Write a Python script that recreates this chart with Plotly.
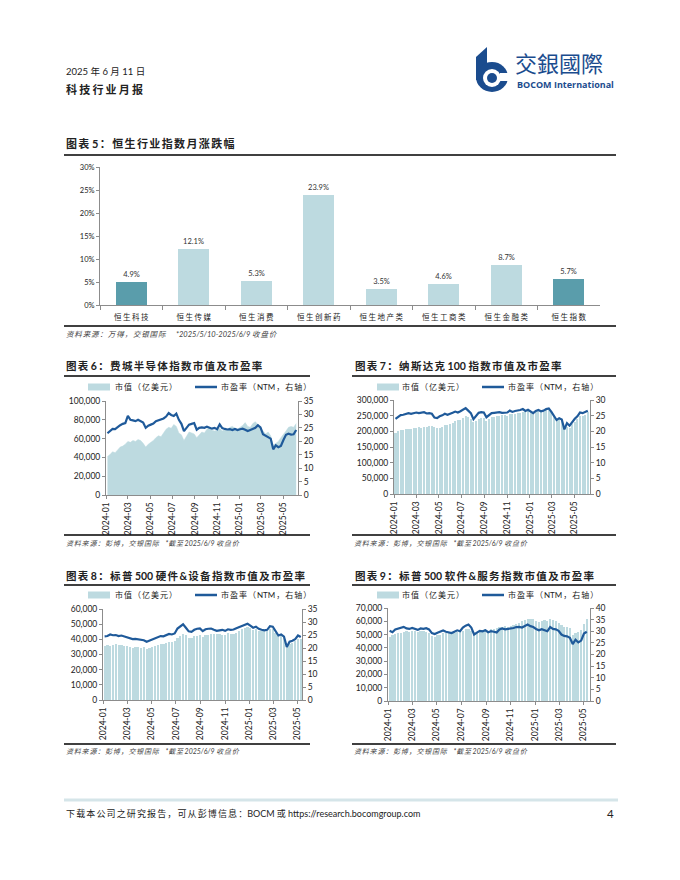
import plotly.graph_objects as go
import pandas as pd

W, H = 680, 880
FONT = "Lato, 'Noto Sans CJK SC', sans-serif"
CJK = "'Noto Sans CJK SC', sans-serif"
LIGHT = "#BDDAE0"
DARK = "#5A9DAB"
BLUE = "#1F5A9A"
AX = "#8C8C8C"

# ---------------- Chart 5 data ----------------
hs_categories = ["恒生科技", "恒生传媒", "恒生消费", "恒生创新药", "恒生地产类", "恒生工商类", "恒生金融类", "恒生指数"]
hs_returns = [0.049, 0.121, 0.053, 0.239, 0.035, 0.046, 0.087, 0.057]
hs_highlight = [True, False, False, False, False, False, False, True]

# ---------------- weekly dates ----------------
dates_long = pd.date_range("2024-01-05", "2025-06-06", freq="W-FRI")
dates_short = pd.date_range("2024-01-05", "2025-05-09", freq="W-FRI")

# ---------------- Chart 6: SOX ----------------
sox_cap_k = [41, 43, 46, 45, 48, 51, 52, 54, 57, 56, 58, 57, 59, 58, 55, 51, 54,
             56, 58, 61, 63, 62, 66, 70, 72, 71, 75, 73, 66, 64, 58, 63, 67, 66, 65,
             61, 64, 67, 66, 70, 72, 69, 68, 69, 71, 68, 70, 69, 72, 73, 71, 70,
             72, 74, 77, 73, 72, 76, 78, 75, 72, 68, 65, 67, 63, 53, 55, 57, 61,
             64, 68, 72, 73, 72, 76]
sox_pe = [23.0, 23.8, 24.6, 24.5, 25.3, 26.0, 26.5, 26.8, 29.5, 28.0, 27.8, 27.5, 28.0,
          27.6, 27.0, 25.0, 25.8, 26.2, 26.6, 27.5, 27.8, 28.0, 28.5, 29.2, 30.5, 29.8,
          29.4, 30.3, 28.0, 26.5, 23.8, 25.0, 26.2, 26.5, 26.8, 24.3, 25.0, 25.2, 25.0,
          25.4, 25.0, 24.7, 25.0, 24.5, 26.3, 24.9, 24.6, 24.4, 24.5, 24.2, 24.6, 24.2,
          24.5, 24.7, 24.3, 23.8, 24.2, 24.6, 25.0, 26.0, 25.2, 22.6, 22.0, 21.3, 21.0,
          17.0, 18.5, 17.8, 18.3, 20.5, 22.4, 22.8, 22.5, 22.6, 24.2]

# ---------------- Chart 7: NDX ----------------
ndx_cap_k = [196, 200, 203, 205, 207, 209, 208, 210, 212, 213, 211, 214, 213,
             216, 218, 215, 210, 212, 215, 220, 221, 222, 226, 232, 235, 236,
             243, 250, 245, 238, 230, 234, 240, 243, 244, 233, 240, 245, 246,
             248, 250, 252, 251, 250, 256, 254, 256, 257, 260, 263, 262, 265,
             262, 258, 264, 266, 265, 263, 268, 270, 262, 248, 240, 238, 236,
             208, 215, 210, 222, 230, 240, 248, 250, 252, 262]
ndx_pe = [24.0, 24.6, 25.2, 25.3, 25.5, 25.8, 25.6, 25.9, 26.0, 25.8, 25.9, 26.1, 25.7,
          25.8, 25.6, 24.4, 24.2, 24.8, 25.1, 25.6, 25.3, 25.5, 25.9, 26.3, 26.0, 26.4,
          27.0, 27.4, 26.6, 25.8, 23.9, 24.8, 25.9, 26.1, 26.0, 24.5, 25.3, 25.8, 25.9,
          26.0, 26.1, 25.9, 26.0, 26.0, 26.6, 26.2, 26.5, 26.6, 26.8, 27.1, 26.5, 26.9,
          26.4, 25.8, 26.5, 26.8, 26.4, 26.6, 27.1, 27.3, 26.2, 24.8, 23.6, 24.2, 23.8,
          20.6, 22.6, 21.8, 23.0, 24.0, 24.8, 26.0, 25.8, 26.2, 26.6]

# ---------------- Chart 8: S&P 500 hardware ----------------
hw_cap_k = [35.5, 36.2, 35.8, 36.5, 37.0, 36.2, 36.0, 35.8, 35.3, 35.0, 34.6, 35.1, 34.8,
            34.5, 34.8, 33.8, 34.2, 35.2, 35.8, 36.5, 37.0, 37.2, 37.8, 38.5, 38.2, 38.8,
            41.0, 42.5, 43.8, 42.6, 41.0, 40.6, 42.0, 42.4, 42.8, 41.5, 42.6, 43.0, 43.2,
            43.8, 43.5, 43.2, 43.0, 42.8, 44.0, 43.5, 43.8, 44.5, 45.5, 46.5, 47.2, 48.0,
            47.2, 46.0, 46.5, 45.5, 45.8, 46.0, 45.2, 46.5, 46.8, 44.2, 42.5, 43.0, 41.8,
            35.5, 36.8, 37.5, 39.0, 40.5, 40.0]
hw_pe = [24.5, 24.6, 25.2, 24.9, 25.0, 24.6, 24.8, 24.4, 24.0, 23.6, 23.4, 23.5, 23.3,
         23.2, 23.0, 22.4, 22.8, 23.2, 23.6, 24.2, 24.6, 24.5, 24.8, 25.4, 25.2, 25.6,
         27.5, 28.2, 29.1, 27.8, 26.4, 26.2, 27.0, 27.4, 27.5, 26.5, 27.2, 27.4, 27.5,
         27.0, 26.6, 26.8, 27.0, 26.6, 27.2, 27.0, 27.1, 27.6, 28.0, 28.6, 29.0, 29.3,
         28.6, 27.8, 28.2, 27.4, 27.0, 26.8, 27.0, 28.4, 28.2, 26.6, 24.8, 25.2, 24.4,
         20.4, 22.4, 22.8, 23.4, 24.8, 24.2]

# ---------------- Chart 9: S&P 500 software ----------------
sw_cap_k = [48.5, 49.5, 50.5, 51.0, 51.5, 52.0, 52.5, 52.0, 52.5, 52.8, 52.0, 53.0, 52.5,
            52.0, 51.5, 49.0, 48.5, 49.5, 50.0, 51.0, 51.5, 51.0, 51.0, 51.5, 52.0, 52.5,
            53.0, 54.0, 54.5, 53.0, 50.5, 51.0, 52.5, 53.5, 54.0, 53.0, 54.0, 54.5, 55.0,
            55.5, 56.0, 56.5, 56.0, 56.5, 57.5, 58.0, 59.0, 60.0, 61.0, 61.8, 62.0, 61.5,
            60.5, 59.5, 60.5, 61.0, 60.0, 61.5, 61.0, 60.0, 59.0, 57.0, 55.5, 56.0, 55.0,
            49.5, 51.0, 52.0, 53.5, 58.0, 61.5]
sw_pe = [30.2, 29.6, 30.8, 31.2, 31.5, 31.9, 31.2, 31.0, 31.4, 31.0, 30.6, 31.2, 31.0,
         31.3, 30.8, 29.2, 28.8, 29.4, 30.0, 30.3, 29.8, 29.5, 29.2, 29.8, 30.4, 30.0,
         31.6, 32.4, 32.9, 31.6, 28.6, 29.4, 30.2, 30.0, 30.4, 29.6, 30.0, 29.8, 29.5,
         30.8, 31.2, 30.8, 31.0, 30.9, 31.4, 31.8, 31.9, 31.6, 32.4, 32.9, 32.2, 31.8,
         31.0, 30.4, 30.9, 30.6, 30.0, 31.8, 31.0, 30.8, 30.2, 28.6, 28.0, 27.8, 27.2,
         24.5, 26.4, 25.2, 26.0, 29.0, 29.8]


def sp(s):
    """Insert thin spaces between CJK characters to mimic the report's letter spacing."""
    out = ""
    for i, ch in enumerate(s):
        out += ch
        if i < len(s) - 1:
            nxt = s[i + 1]
            if (ord(ch) > 0x2E80 or ord(nxt) > 0x2E80) and ch != " " and nxt != " ":
                out += "\u2009"
    return out


fig = go.Figure()

# Chart 5 bars
fig.add_trace(go.Bar(
    x=hs_categories, y=hs_returns,
    marker=dict(color=[DARK if h else LIGHT for h in hs_highlight], line=dict(width=0)),
    width=0.5,
    text=[f"{v * 100:.1f}%" for v in hs_returns],
    textposition="outside", constraintext="none", cliponaxis=False,
    textfont=dict(size=7.5, color="#333333", family=FONT),
    xaxis="x", yaxis="y", showlegend=False, hoverinfo="skip"))

DAY = 86400000


def add_pair(dates, cap_k, pe, xa, ya, ya2, bw_days, area=False):
    caps = [v * 1000 for v in cap_k]
    if area:
        fig.add_trace(go.Scatter(x=dates, y=caps, mode="lines", fill="tozeroy", fillcolor=LIGHT,
                                 line=dict(width=0.5, color=LIGHT), xaxis=xa, yaxis=ya,
                                 showlegend=False, hoverinfo="skip"))
    else:
        fig.add_trace(go.Bar(x=dates, y=caps, marker=dict(color=LIGHT, line=dict(width=0)),
                             width=bw_days * DAY, xaxis=xa, yaxis=ya, showlegend=False, hoverinfo="skip"))
    fig.add_trace(go.Scatter(x=dates, y=pe, mode="lines", line=dict(color=BLUE, width=2.2),
                             xaxis=xa, yaxis=ya2, showlegend=False, hoverinfo="skip"))


add_pair(dates_long, sox_cap_k, sox_pe, "x2", "y2", "y3", 7, area=True)
add_pair(dates_long, ndx_cap_k, ndx_pe, "x3", "y4", "y5", 5.5)
add_pair(dates_short, hw_cap_k, hw_pe, "x4", "y6", "y7", 5.5)
add_pair(dates_short, sw_cap_k, sw_pe, "x5", "y8", "y9", 5.5)


def dx(a, b):
    return [a / W, b / W]


def dy(bottom, top):
    return [1 - bottom / H, 1 - top / H]


TICKFONT = dict(size=8.5, color="#222", family=FONT)


def xdate(domain, anchor, end):
    return dict(domain=domain, anchor=anchor, type="date", range=["2024-01-01", end],
                tickformat="%Y-%m", dtick="M2", tick0="2024-01-01", tickangle=-90,
                ticks="outside", ticklen=3, tickcolor=AX, showline=True, linecolor=AX,
                linewidth=1, showgrid=False, zeroline=False, automargin=False,
                tickfont=TICKFONT)


def yleft(domain, anchor, top, step):
    return dict(domain=domain, anchor=anchor, range=[0, top], dtick=step, tickformat=",",
                ticks="outside", ticklen=3, tickcolor=AX, showline=True, linecolor=AX,
                linewidth=1, showgrid=False, zeroline=False, automargin=False,
                tickfont=TICKFONT)


def yright(over, anchor, top):
    return dict(overlaying=over, anchor=anchor, side="right", range=[0, top], dtick=5,
                ticks="outside", ticklen=3, tickcolor=AX, showline=True, linecolor=AX,
                linewidth=1, showgrid=False, zeroline=False, automargin=False,
                tickfont=TICKFONT)


layout = dict(
    width=W, height=H, autosize=False,
    margin=dict(l=0, r=0, t=0, b=0, pad=0, autoexpand=False),
    paper_bgcolor="white", plot_bgcolor="white", bargap=0, showlegend=False,
    font=dict(family=FONT, color="#222"),
    xaxis=dict(domain=dx(100, 600), anchor="y", type="category", range=[-0.5, 7.5],
               showline=True, linecolor=AX, ticks="outside", tickson="boundaries",
               ticklen=4, tickcolor=AX, showgrid=False, automargin=False,
               ticklabelstandoff=5,
               tickvals=hs_categories, ticktext=[sp(c) for c in hs_categories],
               tickfont=dict(size=7.5, color="#222", family=CJK)),
    yaxis=dict(domain=dy(305, 167), anchor="x", range=[0, 0.30], dtick=0.05,
               tickformat=".0%", showline=True, linecolor=AX, ticks="outside",
               ticklen=3, tickcolor=AX, showgrid=False, zeroline=False, automargin=False,
               tickfont=dict(size=7.5, color="#222", family=FONT)),
    xaxis2=xdate(dx(106, 298), "y2", "2025-06-11"),
    yaxis2=yleft(dy(495, 401), "x2", 100000, 20000),
    yaxis3=yright("y2", "x2", 35),
    xaxis3=xdate(dx(394, 590), "y4", "2025-06-12"),
    yaxis4=yleft(dy(494, 400), "x3", 300000, 50000),
    yaxis5=yright("y4", "x3", 30),
    xaxis4=xdate(dx(103, 302), "y6", "2025-05-12"),
    yaxis6=yleft(dy(700, 609), "x4", 60000, 10000),
    yaxis7=yright("y6", "x4", 35),
    xaxis5=xdate(dx(388, 590), "y8", "2025-05-17"),
    yaxis8=yleft(dy(701, 608), "x5", 70000, 10000),
    yaxis9=yright("y8", "x5", 40),
)

ann = []
shapes = []


def txt(x, y, s, size, color="#222222", bold=False, italic=False, anchor="left", family=FONT):
    if bold:
        s = f"<b>{s}</b>"
    if italic:
        s = f"<i>{s}</i>"
    ann.append(dict(x=x / W, y=1 - y / H, xref="paper", yref="paper", text=s, showarrow=False,
                    xanchor=anchor, yanchor="middle", font=dict(size=size, color=color, family=family)))


def hline(x0, x1, y, color="#000000", width=1.3):
    shapes.append(dict(type="line", xref="paper", yref="paper", x0=x0 / W, x1=x1 / W,
                       y0=1 - y / H, y1=1 - y / H, line=dict(color=color, width=width)))


def rect(x0, y0, x1, y1, color):
    shapes.append(dict(type="rect", xref="paper", yref="paper", x0=x0 / W, x1=x1 / W,
                       y0=1 - y1 / H, y1=1 - y0 / H, fillcolor=color, line=dict(width=0)))


def circ(x0, y0, x1, y1, color):
    shapes.append(dict(type="circle", xref="paper", yref="paper", x0=x0 / W, x1=x1 / W,
                       y0=1 - y1 / H, y1=1 - y0 / H, fillcolor=color, line=dict(width=0)))


# Header
txt(64, 71, sp("2025 年 6 月 11 日"), 9.5)
txt(64, 89, sp("科技行业月报"), 11, bold=True, family=CJK)
LOGO = "#1B4C8E"
pts = [(476, 57), (487, 47), (487, 80), (476, 80)]
path = "M " + " L ".join(f"{x / W},{1 - y / H}" for x, y in pts) + " Z"
shapes.append(dict(type="path", xref="paper", yref="paper", path=path, fillcolor=LOGO, line=dict(width=0)))
circ(476, 62, 508, 92, LOGO)
circ(483, 69, 501, 87, "white")
circ(487, 73, 497, 83, LOGO)
rect(500, 73, 509, 81, "white")
txt(513, 62, "交銀國際", 22, color=LOGO, family="'Noto Sans CJK TC', sans-serif")
txt(515, 84, "BOCOM International", 9, color=LOGO, bold=True, family="'Open Sans', sans-serif")

# Chart titles and rules
txt(64, 144, sp("图表 5：恒生行业指数月涨跌幅"), 11, bold=True)
hline(64, 616, 155)
hline(64, 616, 326, width=1.5)
txt(64, 334, sp("资料来源：万得，交银国际") + "      *2025/5/10-2025/6/9 " + sp("收盘价"), 7.5, color="#444", italic=True)

titles = [(64, 366, "图表 6：费城半导体指数市值及市盈率"),
          (353, 366, "图表 7：纳斯达克 100 指数市值及市盈率"),
          (64, 576, "图表 8：标普 500 硬件&设备指数市值及市盈率"),
          (353, 576, "图表 9：标普 500 软件&服务指数市值及市盈率")]
for x, y, s in titles:
    txt(x, y, sp(s), 10.5, bold=True)

for x0, x1 in [(64, 310), (352, 616)]:
    hline(x0, x1, 376)
    hline(x0, x1, 585)
    hline(x0, x1, 535, width=1.5)
    hline(x0, x1, 744, width=1.5)
    for ys in (543, 751):
        txt(x0, ys, sp("资料来源：彭博，交银国际") + "    *" + sp("截至") + " 2025/6/9 " + sp("收盘价"),
            7, color="#444", italic=True)

# legends
for bx, ly, tx_cap, lx0, lx1, tx_pe in [(88, 387, 113, 195, 217, 219),
                                        (377, 387, 400, 482, 504, 506),
                                        (88, 595, 113, 195, 217, 219),
                                        (377, 595, 400, 482, 504, 506)]:
    rect(bx, ly - 3.5, bx + 22, ly + 3.5, LIGHT)
    txt(tx_cap, ly, sp("市值（亿美元）"), 8)
    hline(lx0, lx1, ly, color=BLUE, width=2.5)
    txt(tx_pe, ly, sp("市盈率（NTM，右轴）"), 8)

# Footer
hline(64, 618, 800, color="#D5E5E9", width=3)
txt(64, 813, sp("下载本公司之研究报告，可从彭博信息：") + "BOCM " + sp("或") + " https://research.bocomgroup.com", 9)
txt(616, 813, "4", 11.5, anchor="right")

layout["annotations"] = ann
layout["shapes"] = shapes
fig.update_layout(**layout)
fig.write_html("out.html", config={"displayModeBar": False},
               post_script="document.body.style.margin='0';document.body.style.padding='0';"
                           "document.documentElement.style.overflow='hidden';")
